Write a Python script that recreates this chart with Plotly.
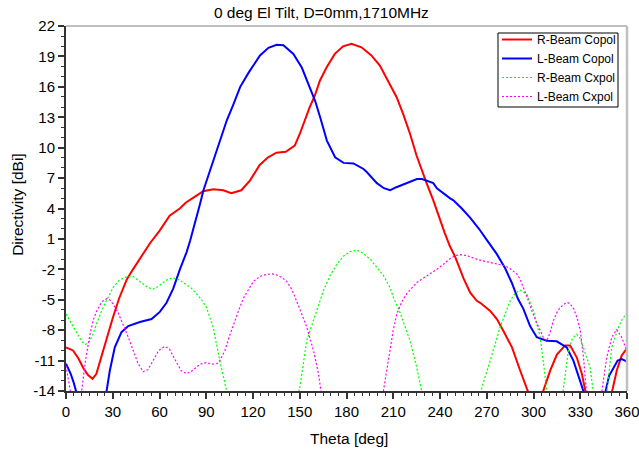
import plotly.graph_objects as go

# ---------------- data ----------------
r_copol_theta = [0, 4.5, 8, 11, 14, 17, 19.5, 22, 24, 28, 30, 34, 39, 43, 47.5, 51, 54, 60, 66.5, 73, 77,
                 84, 88, 94.5, 101, 106, 112.5, 118, 124.3, 129.7, 135, 141, 146.8, 150, 153.2, 156.4,
                 159.6, 162.9, 167.2, 172.5, 177.8, 183.2, 189.6, 196, 201.4, 207.8, 212.1, 216.4, 220.7,
                 225, 228, 231.4, 235.7, 240, 243, 246.3, 249.8, 255.1, 259.4, 263.6, 265.8, 272.2, 276.5,
                 280.8, 286.2, 291.5, 296.8, 300, 303, 305.8, 310.7, 315, 320.3, 323.5, 327.8, 331, 333.2,
                 336, 348, 350.2, 353.4, 356.6, 360]
r_copol_db = [-9.7, -10.0, -10.8, -11.7, -12.4, -12.8, -12.3, -11.0, -10.0, -7.7, -6.8, -4.9, -3.0, -2.0,
              -0.9, -0.1, 0.6, 1.8, 3.3, 4.0, 4.6, 5.3, 5.7, 5.9, 5.8, 5.5, 5.8, 6.75, 8.3, 9.05, 9.5, 9.6,
              10.2, 11.35, 12.7, 14.0, 15.1, 16.6, 17.9, 19.25, 20.0, 20.25, 19.9, 19.1, 18.1, 16.3, 15.0,
              13.3, 11.4, 9.2, 7.9, 6.5, 4.8, 2.8, 1.6, 0.3, -0.8, -2.9, -4.3, -5.1, -5.3, -6.1, -6.9, -8.1,
              -9.7, -12.0, -14.2, -16, -16, -14.2, -12.0, -10.4, -9.5, -9.5, -10.7, -12.3, -14.2, -16, -16,
              -14.2, -12.0, -10.5, -9.8]

l_copol_theta = [0, 3, 5, 7, 10, 24, 26, 28.1, 31.3, 35.6, 39.9, 47.4, 54.9, 60.2, 64.5, 68.8, 73.1, 77.4,
                 79.6, 81.7, 86, 88.2, 91.4, 94.6, 98.9, 103.2, 107.5, 111.8, 117.2, 124.5, 129.9, 135.2,
                 139.5, 145.9, 151.3, 155.6, 159.9, 163.1, 167.4, 172.7, 178.1, 184.5, 190.9, 193, 197.3,
                 199.5, 204, 208, 212, 216.6, 221, 225.2, 228.5, 231.6, 235.7, 238, 242, 246.5, 248.6, 254,
                 259.3, 265, 270, 276.5, 281.8, 286, 290, 293.5, 297.8, 302.1, 308.5, 314.9, 321.3, 325.6,
                 329.9, 332.4, 335, 343, 346, 348.5, 351.4, 354, 356.7, 360]
l_copol_db = [-11.3, -12.3, -13.2, -14.2, -16, -16, -14.1, -12.0, -9.7, -8.2, -7.6, -7.2, -6.9, -6.2, -5.3,
              -3.9, -2.0, -0.3, 0.8, 2.1, 4.45, 5.8, 7.3, 8.9, 10.7, 12.7, 14.3, 16.0, 17.4, 19.1, 19.85,
              20.15, 20.1, 19.25, 17.9, 16.3, 14.6, 13.0, 10.7, 9.05, 8.5, 8.45, 7.9, 7.6, 6.9, 6.5, 6.0,
              5.8, 6.1, 6.4, 6.7, 6.9, 6.9, 6.75, 6.5, 6.0, 5.5, 5.0, 4.8, 4.0, 3.1, 2.0, 0.9, -0.5, -1.9,
              -3.3, -4.9, -5.9, -7.6, -8.7, -9.05, -9.1, -9.7, -11.0, -13.0, -14.2, -16, -16, -14.2, -12.5,
              -11.7, -11.0, -10.85, -11.1]

r_cxpol_theta = [0, 3, 6.6, 10, 12.6, 15, 17.3, 20, 23.8, 27, 30.2, 34, 37.7, 43.1, 46, 49.5, 52.5, 55.9,
                 59, 62.3, 65.5, 68.8, 72, 75.2, 80, 83.7, 87, 90.1, 94.4, 98.7, 103, 106, 147, 150.1,
                 154.5, 158.8, 165.2, 169.5, 173.8, 178, 182.4, 186.6, 190.5, 195.2, 199.5, 203.7, 207.9,
                 210.2, 214.4, 220.8, 225.1, 228.3, 231, 263, 265.8, 272.2, 278.6, 285, 288, 291.4, 295.7,
                 300, 304.3, 306.5, 308.6, 311, 316, 318.8, 322.4, 325, 327.8, 330, 332, 336.3, 338.5, 341,
                 345, 347, 350.2, 354.5, 357, 360]
r_cxpol_db = [-6.4, -7.2, -8.2, -9.1, -9.4, -9.1, -8.4, -7.2, -5.75, -4.7, -3.8, -3.1, -2.8, -2.7, -3.0,
              -3.45, -3.8, -3.95, -3.7, -3.3, -2.95, -2.85, -3.0, -3.3, -3.8, -4.4, -5.0, -5.75, -7.7,
              -11.0, -14.0, -16, -16, -13.6, -9.0, -7.1, -4.1, -2.6, -1.5, -0.7, -0.25, -0.1, -0.4, -1.0,
              -1.8, -2.6, -3.8, -4.8, -6.3, -9.05, -11.7, -14.0, -16, -16, -14.2, -11.0, -7.7, -5.1, -4.4,
              -4.05, -4.45, -6.1, -8.7, -11.35, -14.2, -16, -16, -14.2, -10.0, -8.8, -8.4, -8.8, -9.7,
              -11.7, -14.2, -16, -16, -14.2, -9.7, -7.7, -6.9, -6.3]

l_cxpol_theta = [0, 1.5, 3, 5, 8, 9.9, 12.5, 15.4, 17.5, 19.7, 23, 26.1, 28, 30.2, 33.5, 36.6, 40, 43.1, 46,
                 49.5, 52.5, 55.9, 59.5, 63.4, 66.5, 71, 74, 77.4, 81, 86, 90, 94.5, 97, 98.7, 102, 105.1,
                 108, 111.5, 114, 118, 120.2, 124.4, 128.8, 132, 135.2, 138.5, 141.6, 145, 148, 151, 154.5,
                 158.8, 162, 163.8, 166, 201, 203.7, 205.5, 208, 210, 212.3, 215.5, 218.7, 222, 225.1, 229,
                 233.6, 238, 242.2, 246, 249.7, 253.5, 257.2, 261, 264.6, 270, 274.3, 278, 281.8, 285.5,
                 289.3, 291.5, 293.6, 296.5, 299, 302, 304.3, 306.5, 308.6, 310.5, 312.8, 315.5, 318.3,
                 321.5, 323.5, 325.8, 328, 330, 332.1, 333.8, 335, 342, 343.8, 345.5, 347, 350.2, 353.4,
                 356.6, 360]
l_cxpol_db = [-11.5, -12.8, -14.2, -16, -16, -14.2, -11.0, -8.4, -7.0, -6.1, -5.2, -4.9, -5.0, -5.4, -6.3,
              -7.4, -8.7, -10.0, -11.2, -12.1, -11.9, -11.0, -10.0, -9.6, -9.9, -11.2, -12.0, -12.3, -12.0,
              -11.35, -11.2, -11.35, -11.3, -11.0, -10.0, -8.5, -7.2, -5.75, -4.8, -3.7, -3.2, -2.7, -2.5,
              -2.45, -2.55, -2.8, -3.2, -4.0, -5.1, -6.3, -7.7, -10.0, -12.3, -14.2, -16, -16, -14.0,
              -12.3, -9.9, -8.0, -6.4, -5.2, -4.4, -3.8, -3.3, -2.9, -2.45, -2.0, -1.5, -1.0, -0.65, -0.55,
              -0.65, -0.85, -1.05, -1.25, -1.4, -1.5, -1.65, -2.0, -2.45, -3.0, -3.8, -5.0, -6.1, -7.3,
              -8.0, -8.8, -9.05, -8.3, -7.05, -6.1, -5.6, -5.25, -5.4, -5.9, -6.8, -8.0, -10.7, -13.7, -16,
              -16, -14.2, -12.3, -10.7, -8.7, -7.95, -8.7, -10.1]

x_tick_vals = list(range(0, 361, 30))
x_tick_text = [str(v) for v in x_tick_vals]
y_tick_vals = list(range(-14, 23, 3))
y_tick_text = [str(v) for v in y_tick_vals]

title_text = "0 deg El Tilt, D=0mm,1710MHz"
x_title = "Theta [deg]"
y_title = "Directivity [dBi]"

# ---------------- figure ----------------
FONT = "Liberation Sans, Arial, sans-serif"
fig = go.Figure()

fig.add_trace(go.Scatter(x=r_copol_theta, y=r_copol_db, mode="lines", name="R-Beam Copol",
                         line=dict(color="#ff0000", width=2)))
fig.add_trace(go.Scatter(x=l_copol_theta, y=l_copol_db, mode="lines", name="L-Beam Copol",
                         line=dict(color="#0000ff", width=2)))
fig.add_trace(go.Scatter(x=r_cxpol_theta, y=r_cxpol_db, mode="lines", name="R-Beam Cxpol",
                         line=dict(color="#00ff00", width=1.2, dash="2px,2px")))
fig.add_trace(go.Scatter(x=l_cxpol_theta, y=l_cxpol_db, mode="lines", name="L-Beam Cxpol",
                         line=dict(color="#ff00ff", width=1.2, dash="2px,2px")))

axis_common = dict(showgrid=False, zeroline=False, showline=True, linecolor="#333333", linewidth=2,
                   tickcolor="#333333", tickwidth=1.5, ticklabeloverflow="allow", automargin=False,
                   tickfont=dict(family=FONT, size=15, color="black"))

PLOT_W = 639 - 66 - 12
PLOT_H = 455 - 26 - 64


def px_x(p):
    return (p - 66) / PLOT_W


def px_y(p):
    return (455 - 64 - p) / PLOT_H


fig.update_layout(
    width=639, height=455, autosize=False,
    margin=dict(l=66, r=12, t=26, b=64),
    paper_bgcolor="white", plot_bgcolor="white",
    title=dict(text=title_text, x=0.503, xref="container", y=1 - 13 / 455, yref="container",
               xanchor="center", yanchor="middle",
               font=dict(family=FONT, size=15.5, color="black")),
    xaxis=dict(range=[0, 360], tickmode="array", tickvals=x_tick_vals, ticktext=x_tick_text,
               ticks="outside", ticklen=6,
               minor=dict(dtick=5, tick0=0, ticks="outside", ticklen=3, tickcolor="#333333", tickwidth=1),
               **axis_common),
    yaxis=dict(range=[-14, 22], tickmode="array", tickvals=y_tick_vals, ticktext=y_tick_text,
               ticks="outside", ticklen=6,
               minor=dict(dtick=1, tick0=-14, ticks="outside", ticklen=3, tickcolor="#333333", tickwidth=1),
               **axis_common),
    xaxis2=dict(range=[0, 360], overlaying="x", anchor="y", side="bottom", showgrid=False, zeroline=False,
                tickmode="array", tickvals=x_tick_vals, showticklabels=False, ticks="inside", ticklen=6,
                tickcolor="#333333", tickwidth=1.5, automargin=False,
                minor=dict(dtick=5, tick0=0, ticks="inside", ticklen=2, tickcolor="#333333", tickwidth=1)),
    yaxis2=dict(range=[-14, 22], overlaying="y", anchor="x", side="left", showgrid=False, zeroline=False,
                tickmode="array", tickvals=y_tick_vals, showticklabels=False, ticks="inside", ticklen=6,
                tickcolor="#333333", tickwidth=1.5, automargin=False,
                minor=dict(dtick=1, tick0=-14, ticks="inside", ticklen=2, tickcolor="#333333", tickwidth=1)),
    legend=dict(x=px_x(497), y=px_y(25), xanchor="left", yanchor="top", bgcolor="rgba(0,0,0,0)",
                borderwidth=0, itemwidth=30, tracegroupgap=0,
                font=dict(family=FONT, size=12, color="black")),
    showlegend=True,
    shapes=[
        dict(type="line", xref="paper", yref="paper", x0=0, x1=1, y0=1, y1=1,
             line=dict(color="#c0c0c0", width=2)),
        dict(type="line", xref="paper", yref="paper", x0=1, x1=1, y0=0, y1=1,
             line=dict(color="#c0c0c0", width=2.5)),
        dict(type="rect", xref="paper", yref="paper", x0=px_x(498), x1=px_x(618), y0=px_y(107),
             y1=px_y(33), fillcolor="white", line=dict(color="black", width=1), layer="above"),
    ],
    annotations=[
        dict(text=x_title, xref="paper", yref="paper", x=0.505, y=-(438 - 391) / 365,
             xanchor="center", yanchor="middle", showarrow=False,
             font=dict(family=FONT, size=15.5, color="black")),
        dict(text=y_title, xref="paper", yref="paper", x=-(66 - 18) / 561, y=0.51,
             xanchor="center", yanchor="middle", textangle=-90, showarrow=False,
             font=dict(family=FONT, size=15.5, color="black")),
    ],
)

fig.write_html("out.html")
